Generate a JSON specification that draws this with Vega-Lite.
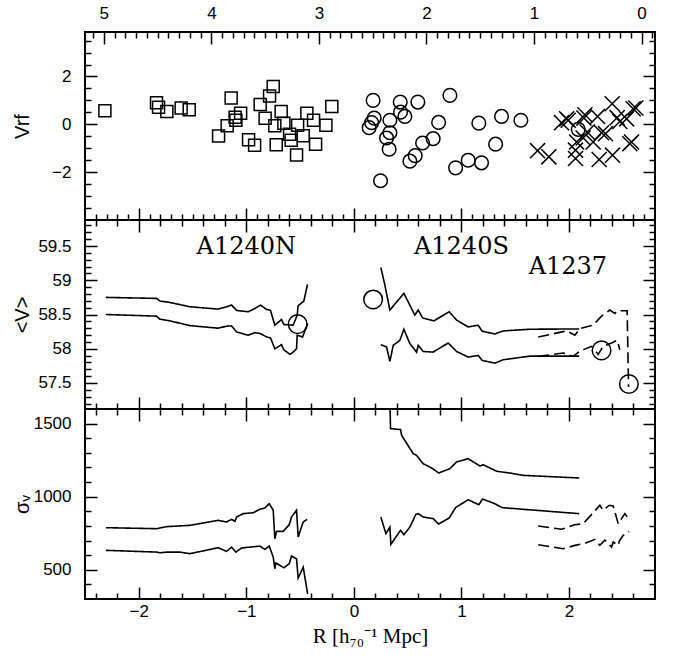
{
  "$schema": "https://vega.github.io/schema/vega-lite/v6.json",
  "padding": {"left": 11, "top": 3, "right": 10, "bottom": 5},
  "spacing": 0,
  "bounds": "flush",
  "config": {
    "view": {"stroke": "black", "strokeWidth": 2},
    "axis": {"domain": false, "grid": false, "tickColor": "black", "tickWidth": 1.5, "labelFont": "Liberation Sans", "labelFontSize": 17, "labelColor": "black", "titleColor": "black", "titleFont": "Liberation Sans", "titleFontSize": 20, "titleFontWeight": "normal", "format": "~f"}
  },
  "datasets": {
    "scatter": [
      {"cl": "A1240N", "R": -2.315, "V": 0.57}, {"cl": "A1240N", "R": -1.835, "V": 0.90}, {"cl": "A1240N", "R": -1.816, "V": 0.71}, {"cl": "A1240N", "R": -1.739, "V": 0.54}, {"cl": "A1240N", "R": -1.606, "V": 0.68}, {"cl": "A1240N", "R": -1.531, "V": 0.61}, {"cl": "A1240N", "R": -1.141, "V": 1.10}, {"cl": "A1240N", "R": -1.258, "V": -0.49}, {"cl": "A1240N", "R": -1.178, "V": -0.06}, {"cl": "A1240N", "R": -1.104, "V": 0.30}, {"cl": "A1240N", "R": -1.053, "V": 0.46}, {"cl": "A1240N", "R": -1.097, "V": 0.17}, {"cl": "A1240N", "R": -0.979, "V": -0.65}, {"cl": "A1240N", "R": -0.923, "V": -0.88}, {"cl": "A1240N", "R": -0.871, "V": 0.83}, {"cl": "A1240N", "R": -0.825, "V": 0.25}, {"cl": "A1240N", "R": -0.784, "V": 1.18}, {"cl": "A1240N", "R": -0.750, "V": 1.58}, {"cl": "A1240N", "R": -0.735, "V": -0.06}, {"cl": "A1240N", "R": -0.676, "V": 0.54}, {"cl": "A1240N", "R": -0.722, "V": -0.85}, {"cl": "A1240N", "R": -0.651, "V": 0.04}, {"cl": "A1240N", "R": -0.598, "V": -0.42}, {"cl": "A1240N", "R": -0.583, "V": -0.67}, {"cl": "A1240N", "R": -0.523, "V": -0.04}, {"cl": "A1240N", "R": -0.533, "V": -1.28}, {"cl": "A1240N", "R": -0.471, "V": -0.48}, {"cl": "A1240N", "R": -0.437, "V": 0.46}, {"cl": "A1240N", "R": -0.375, "V": 0.17}, {"cl": "A1240N", "R": -0.356, "V": -0.83}, {"cl": "A1240N", "R": -0.260, "V": -0.04}, {"cl": "A1240N", "R": -0.205, "V": 0.75},
      {"cl": "A1240S", "R": 0.179, "V": 1.00}, {"cl": "A1240S", "R": 0.189, "V": 0.26}, {"cl": "A1240S", "R": 0.165, "V": 0.07}, {"cl": "A1240S", "R": 0.142, "V": -0.14}, {"cl": "A1240S", "R": 0.248, "V": -2.36}, {"cl": "A1240S", "R": 0.335, "V": 0.17}, {"cl": "A1240S", "R": 0.335, "V": -0.35}, {"cl": "A1240S", "R": 0.304, "V": -0.57}, {"cl": "A1240S", "R": 0.328, "V": -1.04}, {"cl": "A1240S", "R": 0.431, "V": 0.93}, {"cl": "A1240S", "R": 0.434, "V": 0.51}, {"cl": "A1240S", "R": 0.474, "V": 0.33}, {"cl": "A1240S", "R": 0.595, "V": 0.93}, {"cl": "A1240S", "R": 0.521, "V": -1.54}, {"cl": "A1240S", "R": 0.570, "V": -1.31}, {"cl": "A1240S", "R": 0.639, "V": -0.78}, {"cl": "A1240S", "R": 0.737, "V": -0.60}, {"cl": "A1240S", "R": 0.788, "V": 0.08}, {"cl": "A1240S", "R": 0.893, "V": 1.21}, {"cl": "A1240S", "R": 0.946, "V": -1.82}, {"cl": "A1240S", "R": 1.063, "V": -1.50}, {"cl": "A1240S", "R": 1.187, "V": -1.61}, {"cl": "A1240S", "R": 1.162, "V": 0.05}, {"cl": "A1240S", "R": 1.318, "V": -0.83}, {"cl": "A1240S", "R": 1.373, "V": 0.33}, {"cl": "A1240S", "R": 1.553, "V": 0.17}, {"cl": "A1240S", "R": 2.086, "V": -0.21},
      {"cl": "A1237", "R": 1.708, "V": -1.10}, {"cl": "A1237", "R": 1.813, "V": -1.36}, {"cl": "A1237", "R": 1.931, "V": 0.07}, {"cl": "A1237", "R": 1.978, "V": 0.23}, {"cl": "A1237", "R": 1.993, "V": 0.17}, {"cl": "A1237", "R": 2.061, "V": -1.43}, {"cl": "A1237", "R": 2.061, "V": -1.08}, {"cl": "A1237", "R": 2.071, "V": -0.74}, {"cl": "A1237", "R": 2.148, "V": 0.40}, {"cl": "A1237", "R": 2.139, "V": 0.26}, {"cl": "A1237", "R": 2.169, "V": -0.32}, {"cl": "A1237", "R": 2.132, "V": -0.57}, {"cl": "A1237", "R": 2.225, "V": -0.74}, {"cl": "A1237", "R": 2.266, "V": 0.33}, {"cl": "A1237", "R": 2.281, "V": -1.47}, {"cl": "A1237", "R": 2.303, "V": -0.35}, {"cl": "A1237", "R": 2.340, "V": -0.39}, {"cl": "A1237", "R": 2.402, "V": 0.86}, {"cl": "A1237", "R": 2.405, "V": -1.29}, {"cl": "A1237", "R": 2.448, "V": 0.28}, {"cl": "A1237", "R": 2.473, "V": 0.12}, {"cl": "A1237", "R": 2.536, "V": 0.23}, {"cl": "A1237", "R": 2.566, "V": -0.81}, {"cl": "A1237", "R": 2.582, "V": -0.74}, {"cl": "A1237", "R": 2.597, "V": 0.65}, {"cl": "A1237", "R": 2.622, "V": 0.68}
    ],
    "mean": [
      {"cl": "A1240N", "b": "up", "R": -2.306, "V": 58.75}, {"cl": "A1240N", "b": "up", "R": -1.835, "V": 58.735}, {"cl": "A1240N", "b": "up", "R": -1.804, "V": 58.697}, {"cl": "A1240N", "b": "up", "R": -1.711, "V": 58.676}, {"cl": "A1240N", "b": "up", "R": -1.525, "V": 58.613}, {"cl": "A1240N", "b": "up", "R": -1.262, "V": 58.579}, {"cl": "A1240N", "b": "up", "R": -1.184, "V": 58.613}, {"cl": "A1240N", "b": "up", "R": -1.137, "V": 58.638}, {"cl": "A1240N", "b": "up", "R": -1.091, "V": 58.559}, {"cl": "A1240N", "b": "up", "R": -0.983, "V": 58.540}, {"cl": "A1240N", "b": "up", "R": -0.920, "V": 58.588}, {"cl": "A1240N", "b": "up", "R": -0.868, "V": 58.638}, {"cl": "A1240N", "b": "up", "R": -0.812, "V": 58.574}, {"cl": "A1240N", "b": "up", "R": -0.775, "V": 58.559}, {"cl": "A1240N", "b": "up", "R": -0.735, "V": 58.344}, {"cl": "A1240N", "b": "up", "R": -0.673, "V": 58.426}, {"cl": "A1240N", "b": "up", "R": -0.651, "V": 58.353}, {"cl": "A1240N", "b": "up", "R": -0.564, "V": 58.344}, {"cl": "A1240N", "b": "up", "R": -0.527, "V": 58.491}, {"cl": "A1240N", "b": "up", "R": -0.518, "V": 58.628}, {"cl": "A1240N", "b": "up", "R": -0.465, "V": 58.697}, {"cl": "A1240N", "b": "up", "R": -0.431, "V": 58.941},
      {"cl": "A1240N", "b": "lo", "R": -2.306, "V": 58.50}, {"cl": "A1240N", "b": "lo", "R": -1.835, "V": 58.476}, {"cl": "A1240N", "b": "lo", "R": -1.804, "V": 58.432}, {"cl": "A1240N", "b": "lo", "R": -1.711, "V": 58.407}, {"cl": "A1240N", "b": "lo", "R": -1.525, "V": 58.338}, {"cl": "A1240N", "b": "lo", "R": -1.262, "V": 58.300}, {"cl": "A1240N", "b": "lo", "R": -1.184, "V": 58.329}, {"cl": "A1240N", "b": "lo", "R": -1.137, "V": 58.334}, {"cl": "A1240N", "b": "lo", "R": -1.091, "V": 58.246}, {"cl": "A1240N", "b": "lo", "R": -0.983, "V": 58.197}, {"cl": "A1240N", "b": "lo", "R": -0.920, "V": 58.235}, {"cl": "A1240N", "b": "lo", "R": -0.868, "V": 58.221}, {"cl": "A1240N", "b": "lo", "R": -0.812, "V": 58.172}, {"cl": "A1240N", "b": "lo", "R": -0.775, "V": 58.157}, {"cl": "A1240N", "b": "lo", "R": -0.735, "V": 58.0}, {"cl": "A1240N", "b": "lo", "R": -0.673, "V": 58.059}, {"cl": "A1240N", "b": "lo", "R": -0.651, "V": 57.985}, {"cl": "A1240N", "b": "lo", "R": -0.595, "V": 57.918}, {"cl": "A1240N", "b": "lo", "R": -0.564, "V": 57.952}, {"cl": "A1240N", "b": "lo", "R": -0.533, "V": 58.0}, {"cl": "A1240N", "b": "lo", "R": -0.527, "V": 58.196}, {"cl": "A1240N", "b": "lo", "R": -0.477, "V": 58.172}, {"cl": "A1240N", "b": "lo", "R": -0.428, "V": 58.368},
      {"cl": "A1240S", "b": "up", "R": 0.251, "V": 59.187}, {"cl": "A1240S", "b": "up", "R": 0.288, "V": 58.932}, {"cl": "A1240S", "b": "up", "R": 0.335, "V": 58.565}, {"cl": "A1240S", "b": "up", "R": 0.465, "V": 58.809}, {"cl": "A1240S", "b": "up", "R": 0.567, "V": 58.491}, {"cl": "A1240S", "b": "up", "R": 0.598, "V": 58.565}, {"cl": "A1240S", "b": "up", "R": 0.639, "V": 58.451}, {"cl": "A1240S", "b": "up", "R": 0.744, "V": 58.407}, {"cl": "A1240S", "b": "up", "R": 0.886, "V": 58.540}, {"cl": "A1240S", "b": "up", "R": 0.955, "V": 58.418}, {"cl": "A1240S", "b": "up", "R": 1.063, "V": 58.319}, {"cl": "A1240S", "b": "up", "R": 1.156, "V": 58.343}, {"cl": "A1240S", "b": "up", "R": 1.193, "V": 58.256}, {"cl": "A1240S", "b": "up", "R": 1.311, "V": 58.216}, {"cl": "A1240S", "b": "up", "R": 1.388, "V": 58.260}, {"cl": "A1240S", "b": "up", "R": 1.636, "V": 58.285}, {"cl": "A1240S", "b": "up", "R": 2.095, "V": 58.289},
      {"cl": "A1240S", "b": "lo", "R": 0.251, "V": 58.059}, {"cl": "A1240S", "b": "lo", "R": 0.304, "V": 58.025}, {"cl": "A1240S", "b": "lo", "R": 0.335, "V": 57.815}, {"cl": "A1240S", "b": "lo", "R": 0.366, "V": 58.05}, {"cl": "A1240S", "b": "lo", "R": 0.428, "V": 58.123}, {"cl": "A1240S", "b": "lo", "R": 0.465, "V": 58.285}, {"cl": "A1240S", "b": "lo", "R": 0.521, "V": 58.074}, {"cl": "A1240S", "b": "lo", "R": 0.583, "V": 57.951}, {"cl": "A1240S", "b": "lo", "R": 0.598, "V": 58.050}, {"cl": "A1240S", "b": "lo", "R": 0.644, "V": 57.96}, {"cl": "A1240S", "b": "lo", "R": 0.737, "V": 57.951}, {"cl": "A1240S", "b": "lo", "R": 0.877, "V": 58.084}, {"cl": "A1240S", "b": "lo", "R": 0.955, "V": 57.96}, {"cl": "A1240S", "b": "lo", "R": 1.063, "V": 57.878}, {"cl": "A1240S", "b": "lo", "R": 1.156, "V": 57.902}, {"cl": "A1240S", "b": "lo", "R": 1.193, "V": 57.829}, {"cl": "A1240S", "b": "lo", "R": 1.311, "V": 57.790}, {"cl": "A1240S", "b": "lo", "R": 1.388, "V": 57.839}, {"cl": "A1240S", "b": "lo", "R": 1.636, "V": 57.892}, {"cl": "A1240S", "b": "lo", "R": 2.095, "V": 57.892},
      {"cl": "A1237", "b": "up", "R": 1.714, "V": 58.172}, {"cl": "A1237", "b": "up", "R": 1.978, "V": 58.260}, {"cl": "A1237", "b": "up", "R": 2.055, "V": 58.197}, {"cl": "A1237", "b": "up", "R": 2.101, "V": 58.294}, {"cl": "A1237", "b": "up", "R": 2.225, "V": 58.344}, {"cl": "A1237", "b": "up", "R": 2.303, "V": 58.476}, {"cl": "A1237", "b": "up", "R": 2.380, "V": 58.565}, {"cl": "A1237", "b": "up", "R": 2.427, "V": 58.515}, {"cl": "A1237", "b": "up", "R": 2.448, "V": 58.554}, {"cl": "A1237", "b": "up", "R": 2.541, "V": 58.554}, {"cl": "A1237", "b": "up", "R": 2.554, "V": 57.44},
      {"cl": "A1237", "b": "lo", "R": 1.714, "V": 57.888}, {"cl": "A1237", "b": "lo", "R": 1.946, "V": 57.937}, {"cl": "A1237", "b": "lo", "R": 2.039, "V": 57.888}, {"cl": "A1237", "b": "lo", "R": 2.101, "V": 57.966}, {"cl": "A1237", "b": "lo", "R": 2.210, "V": 58.035}, {"cl": "A1237", "b": "lo", "R": 2.272, "V": 57.917}, {"cl": "A1237", "b": "lo", "R": 2.318, "V": 58.035}, {"cl": "A1237", "b": "lo", "R": 2.396, "V": 58.084}, {"cl": "A1237", "b": "lo", "R": 2.448, "V": 58.123}, {"cl": "A1237", "b": "lo", "R": 2.473, "V": 57.986}
    ],
    "meanpts": [
      {"cl": "A1240N", "R": -0.523, "V": 58.36}, {"cl": "A1240S", "R": 0.179, "V": 58.72}, {"cl": "A1237", "R": 2.303, "V": 57.976}, {"cl": "A1237", "R": 2.557, "V": 57.485}
    ],
    "labels": [
      {"name": "A1240N", "R": -1.0, "V": 59.48}, {"name": "A1240S", "R": 1.0, "V": 59.48}, {"name": "A1237", "R": 1.99, "V": 59.2}
    ],
    "sigma": [
      {"cl": "A1240N", "b": "up", "R": -2.306, "S": 788}, {"cl": "A1240N", "b": "up", "R": -1.835, "S": 781}, {"cl": "A1240N", "b": "up", "R": -1.742, "S": 795}, {"cl": "A1240N", "b": "up", "R": -1.525, "S": 804}, {"cl": "A1240N", "b": "up", "R": -1.262, "S": 838}, {"cl": "A1240N", "b": "up", "R": -1.184, "S": 827}, {"cl": "A1240N", "b": "up", "R": -1.137, "S": 845}, {"cl": "A1240N", "b": "up", "R": -1.106, "S": 831}, {"cl": "A1240N", "b": "up", "R": -1.091, "S": 861}, {"cl": "A1240N", "b": "up", "R": -1.029, "S": 884}, {"cl": "A1240N", "b": "up", "R": -0.936, "S": 890}, {"cl": "A1240N", "b": "up", "R": -0.874, "S": 914}, {"cl": "A1240N", "b": "up", "R": -0.828, "S": 923}, {"cl": "A1240N", "b": "up", "R": -0.787, "S": 952}, {"cl": "A1240N", "b": "up", "R": -0.750, "S": 907}, {"cl": "A1240N", "b": "up", "R": -0.735, "S": 712}, {"cl": "A1240N", "b": "up", "R": -0.719, "S": 763}, {"cl": "A1240N", "b": "up", "R": -0.657, "S": 763}, {"cl": "A1240N", "b": "up", "R": -0.601, "S": 808}, {"cl": "A1240N", "b": "up", "R": -0.580, "S": 861}, {"cl": "A1240N", "b": "up", "R": -0.533, "S": 907}, {"cl": "A1240N", "b": "up", "R": -0.518, "S": 724}, {"cl": "A1240N", "b": "up", "R": -0.471, "S": 827}, {"cl": "A1240N", "b": "up", "R": -0.434, "S": 845},
      {"cl": "A1240N", "b": "lo", "R": -2.306, "S": 633}, {"cl": "A1240N", "b": "lo", "R": -1.835, "S": 621}, {"cl": "A1240N", "b": "lo", "R": -1.804, "S": 616}, {"cl": "A1240N", "b": "lo", "R": -1.742, "S": 621}, {"cl": "A1240N", "b": "lo", "R": -1.618, "S": 621}, {"cl": "A1240N", "b": "lo", "R": -1.525, "S": 610}, {"cl": "A1240N", "b": "lo", "R": -1.262, "S": 651}, {"cl": "A1240N", "b": "lo", "R": -1.184, "S": 626}, {"cl": "A1240N", "b": "lo", "R": -1.137, "S": 655}, {"cl": "A1240N", "b": "lo", "R": -1.097, "S": 621}, {"cl": "A1240N", "b": "lo", "R": -1.045, "S": 649}, {"cl": "A1240N", "b": "lo", "R": -0.874, "S": 662}, {"cl": "A1240N", "b": "lo", "R": -0.828, "S": 640}, {"cl": "A1240N", "b": "lo", "R": -0.787, "S": 662}, {"cl": "A1240N", "b": "lo", "R": -0.750, "S": 587}, {"cl": "A1240N", "b": "lo", "R": -0.735, "S": 507}, {"cl": "A1240N", "b": "lo", "R": -0.725, "S": 546}, {"cl": "A1240N", "b": "lo", "R": -0.651, "S": 514}, {"cl": "A1240N", "b": "lo", "R": -0.601, "S": 541}, {"cl": "A1240N", "b": "lo", "R": -0.580, "S": 594}, {"cl": "A1240N", "b": "lo", "R": -0.533, "S": 575}, {"cl": "A1240N", "b": "lo", "R": -0.518, "S": 443}, {"cl": "A1240N", "b": "lo", "R": -0.471, "S": 518}, {"cl": "A1240N", "b": "lo", "R": -0.430, "S": 335},
      {"cl": "A1240S", "b": "up", "R": 0.335, "S": 1650}, {"cl": "A1240S", "b": "up", "R": 0.341, "S": 1466}, {"cl": "A1240S", "b": "up", "R": 0.434, "S": 1459}, {"cl": "A1240S", "b": "up", "R": 0.444, "S": 1420}, {"cl": "A1240S", "b": "up", "R": 0.551, "S": 1295}, {"cl": "A1240S", "b": "up", "R": 0.583, "S": 1283}, {"cl": "A1240S", "b": "up", "R": 0.644, "S": 1226}, {"cl": "A1240S", "b": "up", "R": 0.722, "S": 1197}, {"cl": "A1240S", "b": "up", "R": 0.790, "S": 1162}, {"cl": "A1240S", "b": "up", "R": 0.893, "S": 1192}, {"cl": "A1240S", "b": "up", "R": 0.955, "S": 1238}, {"cl": "A1240S", "b": "up", "R": 1.063, "S": 1260}, {"cl": "A1240S", "b": "up", "R": 1.172, "S": 1210}, {"cl": "A1240S", "b": "up", "R": 1.202, "S": 1219}, {"cl": "A1240S", "b": "up", "R": 1.327, "S": 1174}, {"cl": "A1240S", "b": "up", "R": 1.450, "S": 1162}, {"cl": "A1240S", "b": "up", "R": 1.574, "S": 1146}, {"cl": "A1240S", "b": "up", "R": 2.095, "S": 1128},
      {"cl": "A1240S", "b": "lo", "R": 0.251, "S": 861}, {"cl": "A1240S", "b": "lo", "R": 0.298, "S": 747}, {"cl": "A1240S", "b": "lo", "R": 0.335, "S": 792}, {"cl": "A1240S", "b": "lo", "R": 0.344, "S": 674}, {"cl": "A1240S", "b": "lo", "R": 0.434, "S": 770}, {"cl": "A1240S", "b": "lo", "R": 0.465, "S": 740}, {"cl": "A1240S", "b": "lo", "R": 0.521, "S": 792}, {"cl": "A1240S", "b": "lo", "R": 0.576, "S": 879}, {"cl": "A1240S", "b": "lo", "R": 0.598, "S": 884}, {"cl": "A1240S", "b": "lo", "R": 0.644, "S": 861}, {"cl": "A1240S", "b": "lo", "R": 0.737, "S": 850}, {"cl": "A1240S", "b": "lo", "R": 0.788, "S": 813}, {"cl": "A1240S", "b": "lo", "R": 0.886, "S": 854}, {"cl": "A1240S", "b": "lo", "R": 0.948, "S": 927}, {"cl": "A1240S", "b": "lo", "R": 1.063, "S": 979}, {"cl": "A1240S", "b": "lo", "R": 1.162, "S": 945}, {"cl": "A1240S", "b": "lo", "R": 1.197, "S": 984}, {"cl": "A1240S", "b": "lo", "R": 1.311, "S": 952}, {"cl": "A1240S", "b": "lo", "R": 1.379, "S": 925}, {"cl": "A1240S", "b": "lo", "R": 2.095, "S": 884},
      {"cl": "A1237", "b": "up", "R": 1.714, "S": 799}, {"cl": "A1237", "b": "up", "R": 1.931, "S": 777}, {"cl": "A1237", "b": "up", "R": 2.055, "S": 808}, {"cl": "A1237", "b": "up", "R": 2.132, "S": 815}, {"cl": "A1237", "b": "up", "R": 2.225, "S": 890}, {"cl": "A1237", "b": "up", "R": 2.287, "S": 941}, {"cl": "A1237", "b": "up", "R": 2.318, "S": 907}, {"cl": "A1237", "b": "up", "R": 2.374, "S": 941}, {"cl": "A1237", "b": "up", "R": 2.411, "S": 936}, {"cl": "A1237", "b": "up", "R": 2.436, "S": 873}, {"cl": "A1237", "b": "up", "R": 2.458, "S": 815}, {"cl": "A1237", "b": "up", "R": 2.520, "S": 884}, {"cl": "A1237", "b": "up", "R": 2.566, "S": 838},
      {"cl": "A1237", "b": "lo", "R": 1.714, "S": 671}, {"cl": "A1237", "b": "lo", "R": 1.946, "S": 644}, {"cl": "A1237", "b": "lo", "R": 2.055, "S": 667}, {"cl": "A1237", "b": "lo", "R": 2.148, "S": 681}, {"cl": "A1237", "b": "lo", "R": 2.241, "S": 708}, {"cl": "A1237", "b": "lo", "R": 2.287, "S": 667}, {"cl": "A1237", "b": "lo", "R": 2.334, "S": 702}, {"cl": "A1237", "b": "lo", "R": 2.396, "S": 655}, {"cl": "A1237", "b": "lo", "R": 2.411, "S": 690}, {"cl": "A1237", "b": "lo", "R": 2.458, "S": 667}, {"cl": "A1237", "b": "lo", "R": 2.467, "S": 694}, {"cl": "A1237", "b": "lo", "R": 2.504, "S": 735}, {"cl": "A1237", "b": "lo", "R": 2.560, "S": 762}
    ]
  },
  "vconcat": [
    {
      "width": 570, "height": 188,
      "data": {"name": "scatter"},
      "resolve": {"axis": {"x": "independent", "y": "independent"}},
      "layer": [
        {
          "mark": {"type": "point", "filled": false, "stroke": "black", "strokeWidth": 1.5, "opacity": 1},
          "encoding": {
            "x": {"field": "R", "type": "quantitative", "scale": {"domain": [-2.5, 2.8], "nice": false, "zero": false}, "axis": {"orient": "bottom", "values": [-2, -1, 0, 1, 2], "tickSize": -12, "labels": false, "title": null}},
            "y": {"field": "V", "type": "quantitative", "scale": {"domain": [-4, 3.86], "nice": false, "zero": false}, "axis": {"orient": "left", "values": [-2, 0, 2], "tickSize": -12, "labelPadding": 26, "title": "Vrf", "titleX": -57, "titleBaseline": "alphabetic"}},
            "shape": {"field": "cl", "type": "nominal", "scale": {"domain": ["A1240N", "A1240S", "A1237"], "range": ["square", "circle", "M-1,-1L1,1M1,-1L-1,1"]}, "legend": null},
            "size": {"field": "cl", "type": "ordinal", "scale": {"domain": ["A1240N", "A1240S", "A1237"], "range": [144, 227, 150]}, "legend": null}
          }
        },
        {
          "mark": {"type": "point", "opacity": 0},
          "encoding": {
            "x": {"field": "R", "type": "quantitative", "scale": {"domain": [-2.5, 2.8], "nice": false, "zero": false}, "axis": {"orient": "bottom", "values": [-2.4,-2.3,-2.2,-2.1,-1.9,-1.8,-1.7,-1.6,-1.5,-1.4,-1.3,-1.2,-1.1,-0.9,-0.8,-0.7,-0.6,-0.5,-0.4,-0.3,-0.2,-0.1,0.1,0.2,0.3,0.4,0.5,0.6,0.7,0.8,0.9,1.1,1.2,1.3,1.4,1.5,1.6,1.7,1.8,1.9,2.1,2.2,2.3,2.4,2.5,2.6,2.7], "tickSize": -6, "labels": false, "title": null}},
            "y": {"field": "V", "type": "quantitative", "scale": {"domain": [-4, 3.86], "nice": false, "zero": false}, "axis": {"orient": "left", "values": [-3.5,-3,-2.5,-1.5,-1,-0.5,0.5,1,1.5,2.5,3,3.5], "tickSize": -6, "labels": false, "title": null}}
          }
        },
        {
          "mark": {"type": "point", "opacity": 0},
          "encoding": {
            "x": {"field": "R", "type": "quantitative", "scale": {"domain": [-2.5, 2.8], "nice": false, "zero": false}, "axis": {"orient": "top", "values": [-2.325, -1.325, -0.325, 0.675, 1.675, 2.675], "tickSize": -12, "labelPadding": 22, "labelExpr": "round(2.675 - datum.value)", "title": null}},
            "y": {"field": "V", "type": "quantitative", "scale": {"domain": [-4, 3.86], "nice": false, "zero": false}, "axis": {"orient": "right", "values": [-2, 0, 2], "tickSize": -12, "labels": false, "title": null}}
          }
        },
        {
          "mark": {"type": "point", "opacity": 0},
          "encoding": {
            "x": {"field": "R", "type": "quantitative", "scale": {"domain": [-2.5, 2.8], "nice": false, "zero": false}, "axis": {"orient": "top", "values": [2.775,2.575,2.475,2.375,2.275,2.175,2.075,1.975,1.875,1.775,1.575,1.475,1.375,1.275,1.175,1.075,0.975,0.875,0.775,0.575,0.475,0.375,0.275,0.175,0.075,-0.025,-0.125,-0.225,-0.425,-0.525,-0.625,-0.725,-0.825,-0.925,-1.025,-1.125,-1.225,-1.425,-1.525,-1.625,-1.725,-1.825,-1.925,-2.025,-2.125,-2.225,-2.425], "tickSize": -6, "labels": false, "title": null}},
            "y": {"field": "V", "type": "quantitative", "scale": {"domain": [-4, 3.86], "nice": false, "zero": false}, "axis": {"orient": "right", "values": [-3.5,-3,-2.5,-1.5,-1,-0.5,0.5,1,1.5,2.5,3,3.5], "tickSize": -6, "labels": false, "title": null}}
          }
        }
      ]
    },
    {
      "width": 570, "height": 189,
      "resolve": {"axis": {"x": "independent", "y": "independent"}},
      "layer": [
        {
          "data": {"name": "mean"},
          "mark": {"type": "line", "color": "black", "strokeWidth": 1.6, "clip": true},
          "encoding": {
            "x": {"field": "R", "type": "quantitative", "scale": {"domain": [-2.5, 2.8], "nice": false, "zero": false}, "axis": {"orient": "bottom", "values": [-2, -1, 0, 1, 2], "tickSize": -12, "labels": false, "title": null}},
            "y": {"field": "V", "type": "quantitative", "scale": {"domain": [57.12, 59.88], "nice": false, "zero": false}, "axis": {"orient": "left", "values": [57.5, 58, 58.5, 59, 59.5], "tickSize": -12, "labelPadding": 26, "title": "<V>", "titleX": -57, "titleBaseline": "alphabetic"}},
            "detail": [{"field": "cl", "type": "nominal"}, {"field": "b", "type": "nominal"}],
            "strokeDash": {"field": "cl", "type": "nominal", "scale": {"domain": ["A1240N", "A1240S", "A1237"], "range": [[1, 0], [1, 0], [11, 5]]}, "legend": null}
          }
        },
        {
          "data": {"name": "meanpts"},
          "mark": {"type": "point", "shape": "circle", "filled": false, "stroke": "black", "strokeWidth": 1.5, "size": 346, "opacity": 1},
          "encoding": {
            "x": {"field": "R", "type": "quantitative", "scale": {"domain": [-2.5, 2.8], "nice": false, "zero": false}, "axis": {"orient": "bottom", "values": [-2.4,-2.2,-1.8,-1.6,-1.4,-1.2,-0.8,-0.6,-0.4,-0.2,0.2,0.4,0.6,0.8,1.2,1.4,1.6,1.8,2.2,2.4,2.6], "tickSize": -6, "labels": false, "title": null}},
            "y": {"field": "V", "type": "quantitative", "scale": {"domain": [57.12, 59.88], "nice": false, "zero": false}, "axis": {"orient": "left", "values": [57.2,57.3,57.4,57.6,57.7,57.8,57.9,58.1,58.2,58.3,58.4,58.6,58.7,58.8,58.9,59.1,59.2,59.3,59.4,59.6,59.7,59.8], "tickSize": -6, "labels": false, "title": null}}
          }
        },
        {
          "data": {"name": "labels"},
          "mark": {"type": "text", "font": "DejaVu Serif", "fontSize": 24, "color": "black", "align": "center", "baseline": "middle"},
          "encoding": {
            "x": {"field": "R", "type": "quantitative", "scale": {"domain": [-2.5, 2.8], "nice": false, "zero": false}, "axis": {"orient": "top", "values": [-2, -1, 0, 1, 2], "tickSize": -12, "labels": false, "title": null}},
            "y": {"field": "V", "type": "quantitative", "scale": {"domain": [57.12, 59.88], "nice": false, "zero": false}, "axis": {"orient": "right", "values": [57.5, 58, 58.5, 59, 59.5], "tickSize": -12, "labels": false, "title": null}},
            "text": {"field": "name", "type": "nominal"}
          }
        },
        {
          "data": {"name": "meanpts"},
          "mark": {"type": "point", "opacity": 0},
          "encoding": {
            "x": {"field": "R", "type": "quantitative", "scale": {"domain": [-2.5, 2.8], "nice": false, "zero": false}, "axis": {"orient": "top", "values": [-2.4,-2.2,-1.8,-1.6,-1.4,-1.2,-0.8,-0.6,-0.4,-0.2,0.2,0.4,0.6,0.8,1.2,1.4,1.6,1.8,2.2,2.4,2.6], "tickSize": -6, "labels": false, "title": null}},
            "y": {"field": "V", "type": "quantitative", "scale": {"domain": [57.12, 59.88], "nice": false, "zero": false}, "axis": {"orient": "right", "values": [57.2,57.3,57.4,57.6,57.7,57.8,57.9,58.1,58.2,58.3,58.4,58.6,58.7,58.8,58.9,59.1,59.2,59.3,59.4,59.6,59.7,59.8], "tickSize": -6, "labels": false, "title": null}}
          }
        }
      ]
    },
    {
      "width": 570, "height": 190,
      "data": {"name": "sigma"},
      "resolve": {"axis": {"x": "independent", "y": "independent"}},
      "layer": [
        {
          "mark": {"type": "line", "color": "black", "strokeWidth": 1.6, "clip": true},
          "encoding": {
            "x": {"field": "R", "type": "quantitative", "scale": {"domain": [-2.5, 2.8], "nice": false, "zero": false}, "axis": {"orient": "bottom", "values": [-2, -1, 0, 1, 2], "tickSize": -12, "labelPadding": 16, "title": "R [h₇₀⁻¹ Mpc]", "titleFont": "Liberation Serif", "titleFontSize": 21, "titlePadding": 6}},
            "y": {"field": "S", "type": "quantitative", "scale": {"domain": [300, 1600], "nice": false, "zero": false}, "axis": {"orient": "left", "values": [500, 1000, 1500], "tickSize": -12, "labelPadding": 26, "title": "σᵥ", "titleX": -57, "titleBaseline": "alphabetic"}},
            "detail": [{"field": "cl", "type": "nominal"}, {"field": "b", "type": "nominal"}],
            "strokeDash": {"field": "cl", "type": "nominal", "scale": {"domain": ["A1240N", "A1240S", "A1237"], "range": [[1, 0], [1, 0], [9, 6]]}, "legend": null}
          }
        },
        {
          "mark": {"type": "point", "opacity": 0},
          "encoding": {
            "x": {"field": "R", "type": "quantitative", "scale": {"domain": [-2.5, 2.8], "nice": false, "zero": false}, "axis": {"orient": "bottom", "values": [-2.4,-2.2,-1.8,-1.6,-1.4,-1.2,-0.8,-0.6,-0.4,-0.2,0.2,0.4,0.6,0.8,1.2,1.4,1.6,1.8,2.2,2.4,2.6], "tickSize": -6, "labels": false, "title": null}},
            "y": {"field": "S", "type": "quantitative", "scale": {"domain": [300, 1600], "nice": false, "zero": false}, "axis": {"orient": "left", "values": [400, 600, 700, 800, 900, 1100, 1200, 1300, 1400], "tickSize": -6, "labels": false, "title": null}}
          }
        },
        {
          "mark": {"type": "point", "opacity": 0},
          "encoding": {
            "x": {"field": "R", "type": "quantitative", "scale": {"domain": [-2.5, 2.8], "nice": false, "zero": false}, "axis": {"orient": "top", "values": [-2, -1, 0, 1, 2], "tickSize": -12, "labels": false, "title": null}},
            "y": {"field": "S", "type": "quantitative", "scale": {"domain": [300, 1600], "nice": false, "zero": false}, "axis": {"orient": "right", "values": [500, 1000, 1500], "tickSize": -12, "labels": false, "title": null}}
          }
        },
        {
          "mark": {"type": "point", "opacity": 0},
          "encoding": {
            "x": {"field": "R", "type": "quantitative", "scale": {"domain": [-2.5, 2.8], "nice": false, "zero": false}, "axis": {"orient": "top", "values": [-2.4,-2.2,-1.8,-1.6,-1.4,-1.2,-0.8,-0.6,-0.4,-0.2,0.2,0.4,0.6,0.8,1.2,1.4,1.6,1.8,2.2,2.4,2.6], "tickSize": -6, "labels": false, "title": null}},
            "y": {"field": "S", "type": "quantitative", "scale": {"domain": [300, 1600], "nice": false, "zero": false}, "axis": {"orient": "right", "values": [400, 600, 700, 800, 900, 1100, 1200, 1300, 1400], "tickSize": -6, "labels": false, "title": null}}
          }
        }
      ]
    }
  ]
}
